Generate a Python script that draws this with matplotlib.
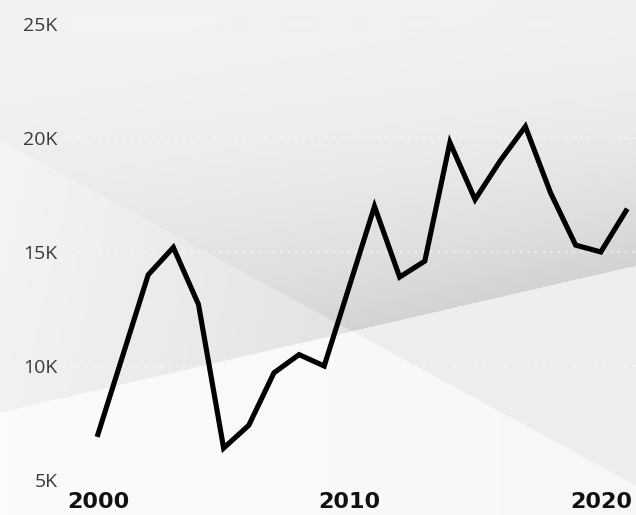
import numpy as np
import matplotlib
matplotlib.use('Agg')
import matplotlib.pyplot as plt
from matplotlib.ticker import FuncFormatter

# data (values in thousands)
years = list(range(2000, 2022))
values = [7.0, 10.5, 14.0, 15.2, 12.7, 6.4, 7.4, 9.7, 10.5, 10.0, 13.5, 17.0,
          13.9, 14.6, 19.8, 17.3, 19.0, 20.5, 17.6, 15.3, 15.0, 16.8]
y_ticks = [5, 10, 15, 20, 25]
x_ticks = [2000, 2010, 2020]

W, H = 636, 515


def background():
    yy, xx = np.mgrid[0:H, 0:W].astype(float)
    l1 = 140 + 0.543 * xx   # edge falling to the right
    l2 = 412 - 0.231 * xx   # edge rising to the right
    img = np.zeros((H, W))
    top = (yy < l1) & (yy < l2)
    left = (yy >= l1) & (yy < l2)
    right = (yy < l1) & (yy >= l2)
    bottom = (yy >= l1) & (yy >= l2)
    img[top] = (243 - 30 * (yy / l2) ** 2 - 0.004 * xx)[top]
    img[left] = (246 - 0.045 * xx - 0.01 * yy)[left]
    img[right] = (240 - 0.006 * yy)[right]
    img[bottom] = (251 - 0.006 * xx)[bottom]
    img = np.clip(img, 0, 255) / 255.0
    return np.dstack([img, img, img])


fig = plt.figure(figsize=(W / 100, H / 100), dpi=100)
bg = fig.add_axes([0, 0, 1, 1])
bg.imshow(background(), extent=[0, W, H, 0], aspect='auto', interpolation='bilinear')
bg.axis('off')

ax = fig.add_axes([70 / W, (H - 488) / H, (W - 70) / W, 488 / H])
ax.patch.set_alpha(0)
ax.plot(years, values, color='black', lw=3.7, solid_joinstyle='miter', zorder=3)

ax.set_xlim(1998.89, 2021.4)
ax.set_ylim(4.65, 26.05)
ax.set_yticks(y_ticks)
ax.set_xticks(x_ticks)
ax.yaxis.set_major_formatter(FuncFormatter(lambda v, p: '%dK' % v))
ax.grid(axis='y', color='white', linestyle=(0, (1.5, 3)), lw=1.2, alpha=0.55)
ax.grid(axis='x', visible=False)
ax.yaxis.get_gridlines()[0].set_visible(False)
for s in ax.spines.values():
    s.set_visible(False)
ax.tick_params(axis='y', length=0, pad=9, labelsize=14, labelcolor='#3a3a3a')
ax.tick_params(axis='x', length=0, pad=3, labelsize=16)
for t in ax.get_yticklabels():
    t.set_fontfamily('Open Sans')
for t in ax.get_xticklabels():
    t.set_fontweight('bold')
    t.set_color('#111111')

fig.savefig('out.png', dpi=100)
